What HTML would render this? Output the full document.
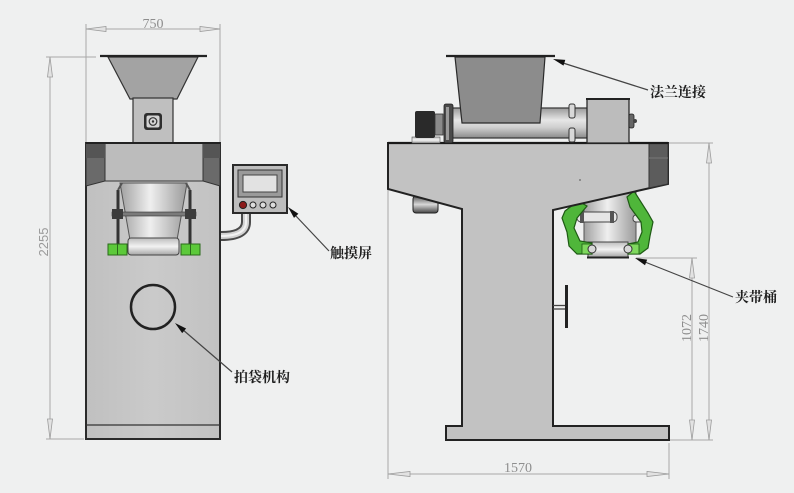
<!DOCTYPE html>
<html><head><meta charset="utf-8">
<style>
html,body{margin:0;padding:0;background:#eff0f0;}
svg{display:block;}
.lbl{font-family:"Liberation Serif","Noto Serif CJK SC",serif;font-weight:bold;font-size:14px;fill:#1e1e1e;}
.dim{font-family:"Liberation Serif",serif;font-size:14px;fill:#8e8e8e;}
</style></head>
<body>
<svg width="794" height="493" viewBox="0 0 794 493" xmlns="http://www.w3.org/2000/svg">
<defs>
  <linearGradient id="cylV" x1="0" y1="0" x2="0" y2="1">
    <stop offset="0" stop-color="#9a9a9a"/><stop offset="0.4" stop-color="#e6e6e6"/>
    <stop offset="0.65" stop-color="#cfcfcf"/><stop offset="1" stop-color="#8a8a8a"/>
  </linearGradient>
  <linearGradient id="cylH" x1="0" y1="0" x2="1" y2="0">
    <stop offset="0" stop-color="#a0a0a0"/><stop offset="0.45" stop-color="#efefef"/>
    <stop offset="1" stop-color="#9a9a9a"/>
  </linearGradient>
  <linearGradient id="ringV" x1="0" y1="0" x2="0" y2="1">
    <stop offset="0" stop-color="#bdbdbd"/><stop offset="0.5" stop-color="#f2f2f2"/>
    <stop offset="1" stop-color="#a5a5a5"/>
  </linearGradient>
  <linearGradient id="bodyG" x1="0" y1="0" x2="1" y2="0">
    <stop offset="0" stop-color="#c0c0c0"/><stop offset="0.5" stop-color="#cacaca"/>
    <stop offset="1" stop-color="#c2c2c2"/>
  </linearGradient>
  <linearGradient id="motG" x1="0" y1="0" x2="0" y2="1">
    <stop offset="0" stop-color="#555"/><stop offset="0.5" stop-color="#d8d8d8"/>
    <stop offset="1" stop-color="#444"/>
  </linearGradient>
</defs>

<rect x="0" y="0" width="794" height="493" fill="#eff0f0"/>

<!-- ================= LEFT MACHINE ================= -->
<!-- dimension 750 -->
<g stroke="#a8a8a8" stroke-width="1" fill="none">
  <line x1="86" y1="24" x2="86" y2="143"/>
  <line x1="220" y1="24" x2="220" y2="143"/>
  <line x1="86" y1="29" x2="220" y2="29"/>
  <!-- 2255 -->
  <line x1="46" y1="57" x2="96" y2="57"/>
  <line x1="46" y1="439" x2="84" y2="439"/>
  <line x1="50" y1="57" x2="50" y2="439"/>
</g>
<g fill="#e2e2e2" stroke="#9c9c9c" stroke-width="0.8">
  <polygon points="86,29 106,26.5 106,31.5"/>
  <polygon points="220,29 200,26.5 200,31.5"/>
  <polygon points="50,57 47.5,77 52.5,77"/>
  <polygon points="50,439 47.5,419 52.5,419"/>
</g>
<text class="dim" x="153" y="28" text-anchor="middle">750</text>
<text transform="translate(48,242) rotate(-90)" text-anchor="middle" style="font-family:'Liberation Sans',sans-serif;font-size:13px;fill:#9a9a9a;">2255</text>

<!-- hopper -->
<polygon points="108,57 198,57 177,99 130,99" fill="#a3a3a3" stroke="#333" stroke-width="1.2"/>
<line x1="100" y1="56" x2="207" y2="56" stroke="#222" stroke-width="2.2"/>
<rect x="133" y="98" width="40" height="45" fill="#bfbfbf" stroke="#333" stroke-width="1.2"/>
<rect x="144" y="113" width="18" height="17" rx="3" fill="#2e2e2e"/>
<rect x="146.5" y="115.5" width="13" height="12" rx="2" fill="#d4d4d4"/>
<circle cx="153" cy="121.5" r="3.8" fill="none" stroke="#333" stroke-width="1.2"/>
<circle cx="153" cy="121.5" r="1.2" fill="#333"/>

<!-- body -->
<rect x="86" y="143" width="134" height="296" fill="url(#bodyG)" stroke="#2a2a2a" stroke-width="2"/>
<rect x="105" y="143" width="98" height="38" fill="#bcbcbc" stroke="#333" stroke-width="1"/>
<polygon points="86,143 105,143 105,181 86,186" fill="#6a6a6a" stroke="#333" stroke-width="1"/>
<rect x="86" y="143" width="19" height="15" fill="#555"/>
<polygon points="203,143 220,143 220,186 203,181" fill="#6a6a6a" stroke="#333" stroke-width="1"/>
<rect x="203" y="143" width="17" height="15" fill="#555"/>
<line x1="86" y1="143" x2="220" y2="143" stroke="#222" stroke-width="2"/>
<line x1="86" y1="425" x2="220" y2="425" stroke="#333" stroke-width="1.3"/>

<!-- funnel & clamp -->
<polygon points="120,183 187,183 177,240 130,240" fill="url(#cylH)" stroke="#555" stroke-width="1"/>
<rect x="128" y="238" width="51" height="17" rx="3" fill="url(#ringV)" stroke="#444" stroke-width="1"/>
<line x1="118" y1="190" x2="118" y2="255" stroke="#333" stroke-width="3"/>
<line x1="190" y1="190" x2="190" y2="255" stroke="#333" stroke-width="3"/>
<line x1="118" y1="190" x2="122" y2="183" stroke="#555" stroke-width="2"/>
<line x1="190" y1="190" x2="186" y2="183" stroke="#555" stroke-width="2"/>
<rect x="112" y="212" width="84" height="4" fill="#7a7a7a" stroke="#333" stroke-width="0.6"/>
<rect x="112" y="209" width="11" height="10" fill="#3c3c3c"/>
<rect x="185" y="209" width="11" height="10" fill="#3c3c3c"/>
<rect x="108" y="244" width="19" height="11" fill="#5cc93a" stroke="#2a6a1a" stroke-width="1"/>
<line x1="117.5" y1="244" x2="117.5" y2="255" stroke="#2a6a1a" stroke-width="1"/>
<rect x="181" y="244" width="19" height="11" fill="#5cc93a" stroke="#2a6a1a" stroke-width="1"/>
<line x1="190.5" y1="244" x2="190.5" y2="255" stroke="#2a6a1a" stroke-width="1"/>

<!-- circle -->
<circle cx="153" cy="307" r="22" fill="none" stroke="#222" stroke-width="2.5"/>
<line x1="182" y1="329" x2="232" y2="372" stroke="#444" stroke-width="1.2"/>
<polygon points="175,323 182.2,333.1 186.1,328.5" fill="#111"/>
<text class="lbl" x="234" y="382">拍袋机构</text>

<!-- touch screen -->
<path d="M246 213 L246 222 Q246 236 221 236" fill="none" stroke="#4a4a4a" stroke-width="10"/>
<path d="M246 213 L246 222 Q246 236 221 236" fill="none" stroke="#d2d2d2" stroke-width="6"/>
<path d="M246 213 L246 222 Q246 236 221 236" fill="none" stroke="#f2f2f2" stroke-width="2"/>
<rect x="233" y="165" width="54" height="48" fill="#bdbdbd" stroke="#2a2a2a" stroke-width="2"/>
<rect x="238" y="170" width="44" height="27" fill="#9a9a9a" stroke="#333" stroke-width="1"/>
<rect x="243" y="175" width="34" height="17" fill="#e2e2e2" stroke="#444" stroke-width="1"/>
<circle cx="243" cy="205" r="3.6" fill="#8b1a1a" stroke="#222" stroke-width="1"/>
<circle cx="253" cy="205" r="3" fill="#dcdcdc" stroke="#222" stroke-width="1"/>
<circle cx="263" cy="205" r="3" fill="#dcdcdc" stroke="#222" stroke-width="1"/>
<circle cx="273" cy="205" r="3" fill="#dcdcdc" stroke="#222" stroke-width="1"/>
<line x1="295" y1="215" x2="329" y2="251" stroke="#444" stroke-width="1.2"/>
<polygon points="288,207 294,217.9 298.4,213.8" fill="#111"/>
<text class="lbl" x="330" y="258">触摸屏</text>

<!-- ================= RIGHT MACHINE ================= -->
<!-- dimensions -->
<g stroke="#a8a8a8" stroke-width="1" fill="none">
  <line x1="388" y1="189" x2="388" y2="479"/>
  <line x1="669" y1="443" x2="669" y2="479"/>
  <line x1="388" y1="474" x2="669" y2="474"/>
  <line x1="636" y1="258" x2="697" y2="258"/>
  <line x1="668" y1="143" x2="713" y2="143"/>
  <line x1="670" y1="440" x2="713" y2="440"/>
  <line x1="692" y1="258" x2="692" y2="440"/>
  <line x1="709" y1="143" x2="709" y2="440"/>
</g>
<g fill="#e2e2e2" stroke="#9c9c9c" stroke-width="0.8">
  <polygon points="388,474 410,471.5 410,476.5"/>
  <polygon points="669,474 647,471.5 647,476.5"/>
  <polygon points="692,258 689.5,278 694.5,278"/>
  <polygon points="692,440 689.5,420 694.5,420"/>
  <polygon points="709,143 706.5,163 711.5,163"/>
  <polygon points="709,440 706.5,420 711.5,420"/>
</g>
<text class="dim" x="518" y="472" text-anchor="middle">1570</text>
<text class="dim" transform="translate(691,328) rotate(-90)" text-anchor="middle">1072</text>
<text class="dim" transform="translate(708,328) rotate(-90)" text-anchor="middle">1740</text>

<!-- bucket & green arms (drawn under table) -->
<rect x="584" y="186" width="52" height="58" fill="url(#cylH)" stroke="#555" stroke-width="1"/>
<rect x="588" y="242" width="40" height="15" fill="url(#ringV)" stroke="#444" stroke-width="1"/>
<line x1="587" y1="257.5" x2="629" y2="257.5" stroke="#222" stroke-width="2"/>
<rect x="577" y="212" width="40" height="10" rx="4" fill="#e6e6e6" stroke="#444" stroke-width="1"/>
<rect x="580" y="211" width="4" height="12" fill="#555"/>
<rect x="610" y="211" width="4" height="12" fill="#555"/>
<rect x="633" y="215" width="16" height="7" rx="3" fill="#e6e6e6" stroke="#444" stroke-width="1"/>
<path d="M565,211 L578,201 L587,206 L577,218 L574,228 L580,241 L592,243 L592,254 L577,254 L569,246 L567,232 L562,218 Z" fill="#4fb63a" stroke="#1e5a14" stroke-width="1.2"/>
<path d="M627,197 L634,191 L648,213 L653,222 L650,236 L648,248 L640,254 L628,254 L628,244 L638,242 L642,232 L641,222 L630,207 Z" fill="#4fb63a" stroke="#1e5a14" stroke-width="1.2"/>
<rect x="582" y="244" width="10" height="10" fill="#7fd85e" stroke="#1e5a14" stroke-width="0.8"/>
<rect x="628" y="244" width="11" height="10" fill="#7fd85e" stroke="#1e5a14" stroke-width="0.8"/>
<circle cx="592" cy="249" r="4" fill="#d8d8d8" stroke="#333" stroke-width="1"/>
<circle cx="628" cy="249" r="4" fill="#d8d8d8" stroke="#333" stroke-width="1"/>

<!-- lower motor -->
<rect x="413" y="196" width="25" height="17" rx="3" fill="url(#motG)" stroke="#222" stroke-width="1"/>

<!-- table / column / base -->
<polygon points="388,143 668,143 668,184 553,210 553,426 669,426 669,440 446,440 446,426 462,426 462,209 388,189"
  fill="#c2c2c2" stroke="#222" stroke-width="2"/>
<polygon points="649,143 668,143 668,184 649,188" fill="#5c5c5c" stroke="#333" stroke-width="1"/>
<line x1="649" y1="158" x2="668" y2="158" stroke="#777" stroke-width="1"/>
<line x1="388" y1="143" x2="668" y2="143" stroke="#1a1a1a" stroke-width="2.2"/>
<circle cx="580" cy="180" r="0.9" fill="#666"/>

<!-- handle -->
<line x1="553" y1="305.5" x2="565" y2="305.5" stroke="#444" stroke-width="1.3"/>
<line x1="553" y1="309" x2="565" y2="309" stroke="#444" stroke-width="1.3"/>
<line x1="566.5" y1="285" x2="566.5" y2="328" stroke="#222" stroke-width="3"/>

<!-- screw tube -->
<rect x="448" y="108" width="140" height="30" fill="url(#cylV)" stroke="#333" stroke-width="1.2"/>
<rect x="569" y="104" width="6" height="14" rx="2" fill="#d8d8d8" stroke="#333" stroke-width="1"/>
<rect x="569" y="128" width="6" height="14" rx="2" fill="#d8d8d8" stroke="#333" stroke-width="1"/>
<!-- motor & coupling -->
<rect x="412" y="137" width="28" height="6" fill="url(#ringV)" stroke="#555" stroke-width="0.6"/>
<rect x="415" y="111" width="20" height="27" rx="2" fill="#2a2a2a"/>
<rect x="435" y="114" width="8" height="21" fill="#8a8a8a" stroke="#333" stroke-width="0.8"/>
<rect x="444" y="104" width="9" height="39" rx="2" fill="#4a4a4a" stroke="#222" stroke-width="0.8"/>
<rect x="446" y="107" width="3" height="33" fill="#9a9a9a"/>
<!-- hopper -->
<polygon points="455,57 545,57 540,123 462,123" fill="#8c8c8c" stroke="#2a2a2a" stroke-width="1.2"/>
<line x1="446" y1="56" x2="555" y2="56" stroke="#222" stroke-width="2.2"/>
<!-- right box -->
<rect x="587" y="99" width="42" height="44" fill="#bcbcbc" stroke="#2a2a2a" stroke-width="1.3"/>
<line x1="586" y1="99" x2="630" y2="99" stroke="#222" stroke-width="2"/>
<rect x="629" y="114" width="5" height="14" rx="2" fill="#666" stroke="#222" stroke-width="0.8"/>
<circle cx="635" cy="121" r="2" fill="#444"/>

<!-- leaders right -->
<line x1="563" y1="63" x2="648" y2="90" stroke="#444" stroke-width="1.2"/>
<polygon points="553,59 563.5,65.6 565.3,59.9" fill="#111"/>
<text class="lbl" x="650" y="97">法兰连接</text>

<line x1="645" y1="262" x2="733" y2="297" stroke="#444" stroke-width="1.2"/>
<polygon points="635,258 645,265.2 647.2,259.6" fill="#111"/>
<text class="lbl" x="735" y="302">夹带桶</text>
</svg>
</body></html>
